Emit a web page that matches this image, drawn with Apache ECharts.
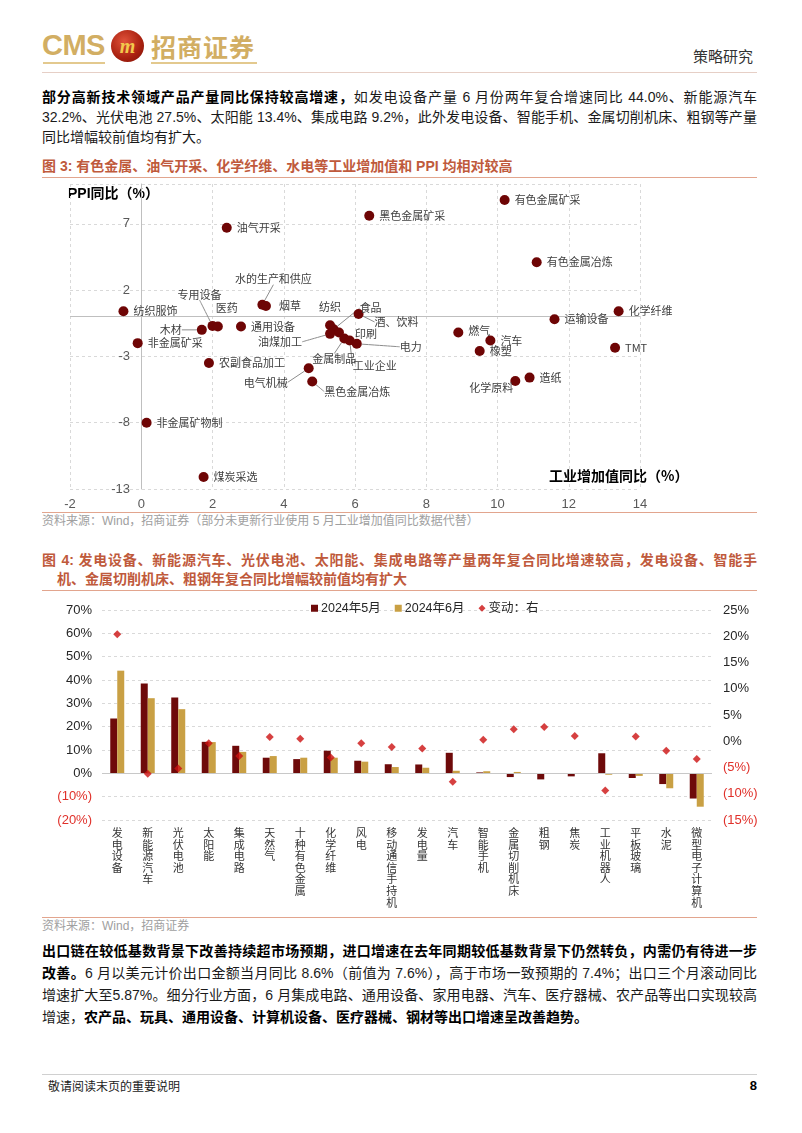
<!DOCTYPE html>
<html><head><meta charset="utf-8">
<script src="https://cdn.jsdelivr.net/npm/echarts@6/dist/echarts.min.js"></script>
<style>
html,body{margin:0;padding:0;background:#fff;}
#page{position:relative;width:802px;height:1133px;overflow:hidden;font-family:"Liberation Sans",Arial,"Noto Sans CJK SC",sans-serif;color:#111;box-sizing:border-box;}
#chart{position:absolute;left:0;top:0;width:802px;height:1133px;}
.abs{position:absolute;}
.ln{position:absolute;left:42px;width:715px;font-size:14px;line-height:20px;height:20px;text-align:justify;text-align-last:justify;color:#1a1a1a;white-space:normal;}
.ln.last{text-align-last:left;}
b{font-weight:bold;color:#000;}
.hr{position:absolute;height:1px;}
.ttl{position:absolute;left:42px;width:715px;font-size:14px;line-height:19px;font-weight:bold;color:#BF5A3C;text-align:justify;text-align-last:justify;}
.src{position:absolute;left:42px;font-size:12px;color:#a0a0a0;line-height:14px;}
</style></head>
<body><div id="page">
<!-- header -->
<div class="abs" style="left:42px;top:28px;font-size:29px;font-weight:bold;color:#D2AE63;letter-spacing:-0.5px;line-height:34px;">CMS</div>
<div class="abs" style="left:111px;top:30px;width:33px;height:32px;border-radius:50%;background:radial-gradient(circle at 40% 35%,#E0523A,#A8200F 60%,#7A1208);"></div>
<div class="abs" style="left:111px;top:30px;width:33px;height:32px;line-height:32px;text-align:center;font-style:italic;font-weight:bold;font-size:20px;color:#F2C94C;font-family:'Liberation Serif',serif;">m</div>
<div class="abs" style="left:151px;top:29px;font-size:25px;font-weight:bold;color:#D2AE63;line-height:34px;font-family:'Noto Sans CJK SC',sans-serif;letter-spacing:1px;">招商证券</div>
<div class="hr" style="left:43px;top:62px;width:62px;height:2px;background:#E3C98E;"></div>
<div class="hr" style="left:151px;top:62px;width:106px;height:2px;background:#E3C98E;"></div>
<div class="abs" style="left:693px;top:47px;font-size:15px;color:#333;font-family:'Noto Sans CJK SC',sans-serif;line-height:18px;">策略研究</div>
<div class="hr" style="left:42px;top:72px;width:715px;background:#E6CFC6;"></div>

<!-- paragraph 1 -->
<div class="ln" style="top:87px;"><b>部分高新技术领域产品产量同比保持较高增速，</b>如发电设备产量 6 月份两年复合增速同比 44.0%、新能源汽车</div>
<div class="ln" style="top:107px;">32.2%、光伏电池 27.5%、太阳能 13.4%、集成电路 9.2%，此外发电设备、智能手机、金属切削机床、粗钢等产量</div>
<div class="ln last" style="top:127px;">同比增幅较前值均有扩大。</div>

<div class="ttl" style="top:157px;text-align-last:left;">图 3: 有色金属、油气开采、化学纤维、水电等工业增加值和 PPI 均相对较高</div>
<div class="hr" style="left:42px;top:177px;width:715px;background:#E2A58E;"></div>

<div class="hr" style="left:42px;top:512px;width:715px;background:#E2A58E;"></div>
<div class="src" style="top:514px;">资料来源：Wind，招商证券（部分未更新行业使用 5 月工业增加值同比数据代替）</div>

<div class="ttl" style="top:551px;">图 4: 发电设备、新能源汽车、光伏电池、太阳能、集成电路等产量两年复合同比增速较高，发电设备、智能手</div>
<div class="ttl" style="top:570px;left:57px;width:700px;text-align-last:left;">机、金属切削机床、粗钢年复合同比增幅较前值均有扩大</div>
<div class="hr" style="left:42px;top:590px;width:715px;background:#E2A58E;"></div>

<div class="hr" style="left:42px;top:917px;width:715px;background:#E2A58E;"></div>
<div class="src" style="top:919px;">资料来源：Wind，招商证券</div>

<!-- paragraph 2 -->
<div class="ln" style="top:941px;line-height:21px;"><b>出口链在较低基数背景下改善持续超市场预期，进口增速在去年同期较低基数背景下仍然转负，内需仍有待进一步</b></div>
<div class="ln" style="top:963px;line-height:21px;"><b>改善。</b>6 月以美元计价出口金额当月同比 8.6%（前值为 7.6%），高于市场一致预期的 7.4%；出口三个月滚动同比</div>
<div class="ln" style="top:985px;line-height:21px;">增速扩大至5.87%。细分行业方面，6 月集成电路、通用设备、家用电器、汽车、医疗器械、农产品等出口实现较高</div>
<div class="ln last" style="top:1007px;line-height:21px;">增速，<b>农产品、玩具、通用设备、计算机设备、医疗器械、钢材等出口增速呈改善趋势。</b></div>

<!-- footer -->
<div class="hr" style="left:42px;top:1074px;width:715px;background:#D0D0D0;"></div>
<div class="abs" style="left:48px;top:1079px;font-size:12px;color:#222;line-height:14px;font-family:'Noto Sans CJK SC',sans-serif;">敬请阅读末页的重要说明</div>
<div class="abs" style="left:740px;top:1078px;width:17px;text-align:right;font-size:13px;font-weight:bold;color:#000;line-height:15px;">8</div>

<div id="chart"></div>
</div>
<script>
// ---------- Figure 3 data (scatter) ----------
const scNames = ['有色金属矿采','黑色金属矿采','油气开采','有色金属冶炼','水的生产和供应','烟草','纺织服饰','专用设备','医药','木材','通用设备','纺织','食品','酒、饮料','印刷','油煤加工','金属制品','工业企业','电力','非金属矿采','农副食品加工','电气机械','黑色金属冶炼','非金属矿物制','煤炭采选','燃气','汽车','橡塑','运输设备','化学纤维','TMT','造纸','化学原料'];
const scX = [10.2, 6.4, 2.4, 11.1, 3.4, 3.5, -0.5, 2.0, 2.15, 1.7, 2.8, 5.3, 5.4, 6.1, 5.55, 5.3, 5.7, 5.85, 6.05, -0.1, 1.9, 4.7, 4.8, 0.15, 1.75, 8.9, 9.8, 9.5, 11.6, 13.4, 13.3, 10.9, 10.5];
const scY = [8.8, 7.6, 6.7, 4.1, 0.9, 0.8, 0.4, -0.7, -0.75, -1.0, -0.75, -0.65, -0.95, 0.2, -1.2, -1.3, -1.65, -1.8, -2.05, -2.0, -3.5, -3.9, -4.9, -8.0, -12.1, -1.2, -1.8, -2.6, -0.2, 0.4, -2.35, -4.6, -4.85];

// ---------- Figure 4 data (bars + change) ----------
const categories = ['发电设备','新能源汽车','光伏电池','太阳能','集成电路','天然气','十种有色金属','化学纤维','风电','移动通信手持机','发电量','汽车','智能手机','金属切削机床','粗钢','焦炭','工业机器人','平板玻璃','水泥','微型电子计算机'];
const may2024 = [23.5, 38.5, 32.5, 13.5, 11.8, 6.7, 6.1, 9.7, 5.4, 3.9, 3.8, 8.8, 0.4, -1.6, -2.6, -1.3, 8.6, -2.0, -4.6, -10.8];
const jun2024 = [44.0, 32.2, 27.5, 13.4, 9.2, 7.4, 6.7, 6.7, 5.0, 2.7, 2.4, 1.1, 0.9, 0.6, 0.1, -0.2, -0.6, -1.1, -6.4, -14.3];
const change = [20.4, -6.2, -5.2, -0.4, -2.8, 0.8, 0.5, -3.1, -0.4, -1.1, -1.4, -7.7, 0.3, 2.3, 2.7, 1.0, -9.4, 0.9, -1.8, -3.4];
const seriesNames = ['2024年5月','2024年6月','变动：右'];

// label placement tweaks for scatter (style, not data)
const labelTweak = {
  '水的生产和供应': {pos:'top', dx:11, dy:-10, line:true},
  '烟草': {pos:'right', dx:3, dy:0},
  '专用设备': {pos:'top', dx:-13, dy:-16, line:true},
  '医药': {pos:'top', dx:9, dy:-3},
  '木材': {pos:'left', dx:-10, dy:0, line:true},
  '纺织': {pos:'top', dx:0, dy:-3},
  '食品': {pos:'right', dx:16, dy:-21, line:true},
  '酒、饮料': {pos:'right', dx:6, dy:8, line:true},
  '印刷': {pos:'right', dx:6, dy:1},
  '油煤加工': {pos:'left', dx:-18, dy:8, line:true},
  '金属制品': {pos:'bottom', dx:-10, dy:5, line:true},
  '工业企业': {pos:'bottom', dx:25, dy:10, line:true},
  '电力': {pos:'right', dx:33, dy:3, line:true},
  '电气机械': {pos:'left', dx:-11, dy:14, line:true},
  '黑色金属冶炼': {pos:'right', dx:2, dy:10, line:true},
  '化学原料': {pos:'left', dx:8, dy:7},
  '燃气': {pos:'right', dx:0, dy:-2}
};

const numFont = '"Liberation Sans", Arial, "Noto Sans CJK SC", sans-serif';
const cjkFont = '"Noto Sans CJK SC", sans-serif';

const scData = scNames.map((n, i) => {
  const t = labelTweak[n] || {};
  return {
    name: n,
    value: [scX[i], scY[i]],
    label: {position: t.pos || 'right'},
    labelLine: {show: !!t.line}
  };
});

function pctLabel(v) {
  if (v < 0) return '(' + Math.abs(v) + '%)';
  return v + '%';
}
function pctColor(v) { return v < 0 ? '#E0302A' : '#262626'; }

const chart = echarts.init(document.getElementById('chart'));
chart.setOption({
  animation: false,
  textStyle: {fontFamily: numFont},
  grid: [
    {left: 70, right: 162, top: 184, bottom: 644, containLabel: false},
    {left: 102, right: 90, top: 610, bottom: 313, containLabel: false}
  ],
  legend: {
    data: [
      {name: seriesNames[0], icon: 'rect'},
      {name: seriesNames[1], icon: 'rect'},
      {name: seriesNames[2], icon: 'diamond'}
    ],
    left: 306, top: 597,
    itemWidth: 7, itemHeight: 7, itemGap: 14,
    textStyle: {fontSize: 12.5, color: '#262626', fontFamily: numFont, padding: [0, 0, 0, -2]}
  },
  xAxis: [
    {
      gridIndex: 0, type: 'value', min: -2, max: 14, interval: 2,
      axisLine: {show: false, onZero: false},
      axisTick: {show: false},
      axisLabel: {color: '#595959', fontSize: 13, margin: 9, fontFamily: numFont},
      splitLine: {show: true, lineStyle: {color: '#D9D9D9', type: [3, 3], width: 1}}
    },
    {
      gridIndex: 1, type: 'category', data: categories,
      axisLine: {show: false}, axisTick: {show: false},
      axisLabel: {
        interval: 0, margin: 7, fontSize: 11, lineHeight: 11.6, color: '#333', fontFamily: cjkFont,
        verticalAlign: 'top',
        formatter: v => v.split('').join('\n')
      },
      splitLine: {show: false}
    }
  ],
  yAxis: [
    {
      gridIndex: 0, type: 'value', min: -13, max: 10, interval: 5,
      axisLine: {show: true, onZero: true, lineStyle: {color: '#BFBFBF', width: 1}},
      axisTick: {show: false},
      axisLabel: {color: '#595959', fontSize: 13, margin: -60, showMaxLabel: false, fontFamily: numFont},
      splitLine: {show: true, lineStyle: {color: '#D9D9D9', type: [3, 3], width: 1}}
    },
    {
      gridIndex: 1, type: 'value', min: -20, max: 70, interval: 10, position: 'left',
      axisLine: {show: false}, axisTick: {show: false},
      axisLabel: {fontSize: 13, margin: 10, formatter: pctLabel, color: pctColor, fontFamily: numFont},
      splitLine: {show: true, lineStyle: {color: '#D9D9D9', type: [3, 3], width: 1}}
    },
    {
      gridIndex: 1, type: 'value', min: -15, max: 25, interval: 5, position: 'right',
      axisLine: {show: false}, axisTick: {show: false},
      axisLabel: {fontSize: 13, margin: 11, formatter: pctLabel, color: pctColor, fontFamily: numFont},
      splitLine: {show: false}
    }
  ],
  graphic: [
    {type: 'text', left: 68, top: 187, style: {text: 'PPI同比（%）', fontSize: 14, fontWeight: 'bold', fill: '#000', fontFamily: numFont}},
    {type: 'text', left: 549, top: 469, style: {text: '工业增加值同比（%）', fontSize: 14, fontWeight: 'bold', fill: '#000', fontFamily: cjkFont}}
  ],
  series: [
    {
      type: 'scatter', xAxisIndex: 0, yAxisIndex: 0,
      data: scData,
      symbolSize: 10,
      itemStyle: {color: '#6E0505', opacity: 1},
      label: {show: true, formatter: '{b}', fontSize: 11, color: '#404040', distance: 5, fontFamily: cjkFont},
      labelLine: {show: false, lineStyle: {color: '#8C8C8C', width: 1}, smooth: 0.3},
      labelLayout: function (p) {
        const t = labelTweak[scNames[p.dataIndex]];
        return t ? {dx: t.dx || 0, dy: t.dy || 0} : {};
      },
      markLine: {
        silent: true, symbol: 'none', label: {show: false},
        lineStyle: {color: '#BFBFBF', type: 'solid', width: 1},
        data: [{yAxis: 0}]
      },
      z: 5
    },
    {
      name: seriesNames[0], type: 'bar', xAxisIndex: 1, yAxisIndex: 1,
      data: may2024, barWidth: 7, barGap: '0%',
      itemStyle: {color: '#6E0A0A'},
      markLine: {
        silent: true, symbol: 'none', label: {show: false},
        lineStyle: {color: '#C8C8C8', type: 'solid', width: 1},
        data: [{yAxis: 0}]
      }
    },
    {
      name: seriesNames[1], type: 'bar', xAxisIndex: 1, yAxisIndex: 1,
      data: jun2024, barWidth: 7, barGap: '0%',
      itemStyle: {color: '#C9A044'}
    },
    {
      name: seriesNames[2], type: 'scatter', xAxisIndex: 1, yAxisIndex: 2,
      data: change, symbol: 'diamond', symbolSize: 8,
      itemStyle: {color: '#CC1010'}, z: 6
    }
  ]
});
</script>
</body></html>
